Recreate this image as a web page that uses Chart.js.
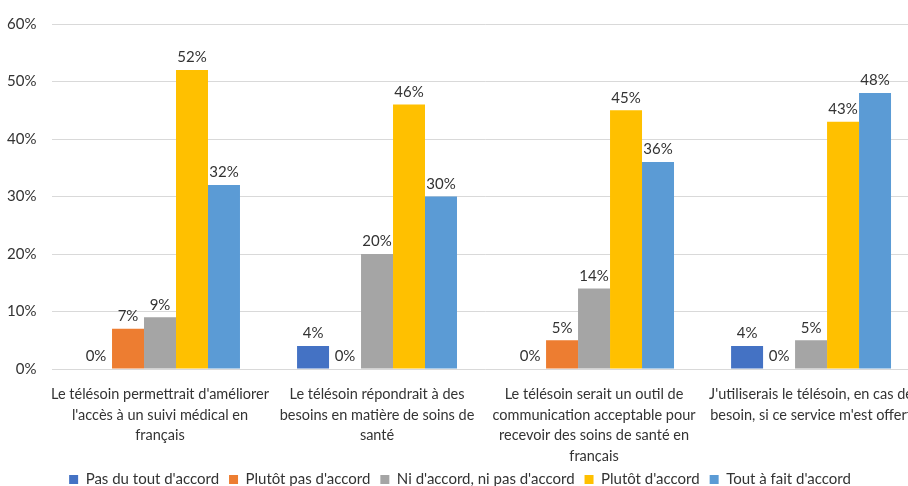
<!DOCTYPE html>
<html lang="fr">
<head>
<meta charset="utf-8">
<title>Télésoin</title>
<script src="https://cdn.jsdelivr.net/npm/chart.js@4/dist/chart.umd.min.js"></script>
<style>
  html, body { margin: 0; padding: 0; background: #fff; overflow: hidden; }
  .chartContainer { position: relative; width: 920px; height: 497px; }
</style>
</head>
<body>
<div class="chartContainer"><canvas id="chart"></canvas></div>
<script>
// Categories (one line per array entry)
const categories = [
  ["Le télésoin permettrait d'améliorer", "l'accès à un suivi médical en", "français"],
  ["Le télésoin répondrait à des", "besoins en matière de soins de", "santé"],
  ["Le télésoin serait un outil de", "communication acceptable pour", "recevoir des soins de santé en", "français"],
  ["J'utiliserais le télésoin, en cas de", "besoin, si ce service m'est offert"],
];

// Series names
const seriesNames = [
  "Pas du tout d'accord",
  "Plutôt pas d'accord",
  "Ni d'accord, ni pas d'accord",
  "Plutôt d'accord",
  "Tout à fait d'accord",
];

// Values in percent
const pasDuTout = [0, 4, 0, 4];
const plutotPas = [7, 0, 5, 0];
const niNi = [9, 20, 14, 5];
const plutot = [52, 46, 45, 43];
const toutAFait = [32, 30, 36, 48];

// Y axis ticks
const yTicks = [0, 10, 20, 30, 40, 50, 60];

const colors = ["#4472C4", "#ED7D31", "#A5A5A5", "#FFC000", "#5B9BD5"];
const textColor = "#333333";
const fontFamily = "Lato, 'Open Sans', sans-serif";

const seriesValues = [pasDuTout, plutotPas, niNi, plutot, toutAFait];

const datasets = seriesNames.map((name, i) => ({
  label: name,
  data: seriesValues[i],
  backgroundColor: colors[i],
  borderWidth: 0,
  categoryPercentage: 0.737,
  barPercentage: 1,
}));

// Value labels above each bar
const valueLabels = {
  id: "valueLabels",
  afterDatasetsDraw(chart) {
    const ctx = chart.ctx;
    ctx.save();
    ctx.font = `15px ${fontFamily}`;
    ctx.fillStyle = textColor;
    ctx.textAlign = "center";
    ctx.textBaseline = "bottom";
    chart.data.datasets.forEach((ds, i) => {
      const meta = chart.getDatasetMeta(i);
      meta.data.forEach((bar, j) => {
        ctx.fillText(`${ds.data[j]}%`, bar.x, bar.y - 5);
      });
    });
    ctx.restore();
  },
};

const config = {
  type: "bar",
  data: { labels: categories, datasets: datasets },
  options: {
    responsive: true,
    maintainAspectRatio: false,
    animation: false,
    layout: { padding: { top: 15, left: 0, right: 0, bottom: 0 } },
    plugins: {
      tooltip: { enabled: false },
      legend: {
        position: "bottom",
        labels: {
          boxWidth: 9,
          boxHeight: 9,
          padding: 10,
          color: textColor,
          font: { family: fontFamily, size: 15 },
        },
      },
    },
    scales: {
      x: {
        grid: { display: false },
        border: { display: false },
        ticks: {
          color: textColor,
          autoSkip: false,
          maxRotation: 0,
          padding: 7,
          font: { family: fontFamily, size: 14.5, lineHeight: 1.42 },
        },
        afterFit: (scale) => { scale.height = 93; },
      },
      y: {
        min: 0,
        max: 60,
        afterBuildTicks: (scale) => { scale.ticks = yTicks.map((v) => ({ value: v })); },
        grid: { color: "#d9d9d9", drawTicks: false },
        border: { display: false },
        ticks: {
          color: textColor,
          padding: 15,
          font: { family: fontFamily, size: 15 },
          callback: (v) => `${v}%`,
        },
        afterFit: (scale) => { scale.width = 51.5; },
      },
    },
  },
  plugins: [valueLabels],
};

const myChart = new Chart(document.querySelector("#chart"), config);
</script>
</body>
</html>
